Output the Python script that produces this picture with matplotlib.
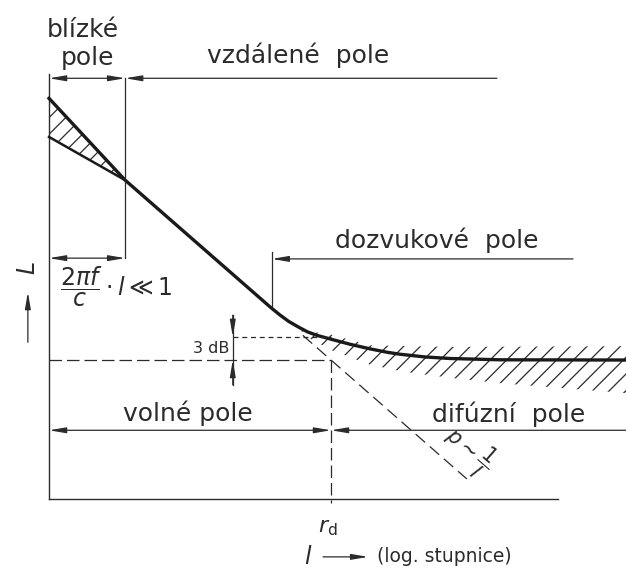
import numpy as np
import matplotlib.pyplot as plt
from matplotlib.patches import FancyArrowPatch, ArrowStyle

# x = distance l on a log scale (r_d = 6), y = level L in dB (reverberant level = 18)
curve_x = [0.0, 1.62, 4.70, 4.90, 5.10, 5.30, 5.50, 5.70, 6.00, 6.40, 6.83, 7.20,
           7.47, 8.00, 8.53, 9.60, 12.3]
curve_y = [51.9, 41.3, 24.9, 23.9, 23.0, 22.3, 21.65, 21.2, 20.7, 20.05, 19.45, 19.0,
           18.75, 18.4, 18.2, 18.03, 18.0]

# lower edge of the near-field spread
near_x = [0.0, 1.62]
near_low_y = [46.9, 41.3]
near_up_y = [51.9, 41.3]

# p ~ 1/l continuation (dashed)
free_x = [5.40, 8.89]
free_y = [21.2, 2.6]

# hatched spread in the diffuse field
band_up_x = [5.34, 6.0, 6.83, 8.53, 12.3]
band_up_y = [21.9, 21.3, 19.9, 19.7, 19.8]
band_lo_x = [5.34, 5.55, 6.0, 6.83, 7.53, 8.53, 9.6, 12.3]
band_lo_y = [21.9, 20.8, 19.3, 17.4, 16.5, 15.7, 15.0, 13.7]

r_d = 6.0
L_rev = 18.0
L_3db = 21.0
x_near = 1.62
x_dozv = 4.74
x_end = 12.3

INK = '#2b2b2b'
plt.rcParams['hatch.linewidth'] = 0.9

fig = plt.figure(figsize=(6.26, 5.69), dpi=100)
ax = fig.add_axes([0, 0, 1, 1])
ax.set_xlim(-1.043, 12.277)
ax.set_ylim(-9.07, 64.64)
ax.axis('off')

arrow_both = ArrowStyle('<|-|>', head_length=10, head_width=1.7)
arrow_left = ArrowStyle('<|-', head_length=10, head_width=1.7)
arrow_right = ArrowStyle('-|>', head_length=10, head_width=1.7)


def arrow(p0, p1, style, lw=0.9):
    ax.add_patch(FancyArrowPatch(p0, p1, arrowstyle=style, mutation_scale=1,
                                 lw=lw, color=INK, shrinkA=0, shrinkB=0))


# axes of the diagram
ax.plot([0, 0], [0, 55], color=INK, lw=1.0)
ax.plot([0, 10.83], [0, 0], color=INK, lw=1.0)

# hatched regions
ax.fill_between(near_x, near_low_y, near_up_y, facecolor='none', edgecolor=INK,
                hatch='//', linewidth=0)
ax.fill(band_up_x + band_lo_x[::-1], band_up_y + band_lo_y[::-1], facecolor='none',
        edgecolor=INK, hatch='//', linewidth=0)

# level curves
ax.plot(near_x, near_low_y, color='#1a1a1a', lw=1.8)
ax.plot(curve_x, curve_y, color='#1a1a1a', lw=2.4, solid_joinstyle='round')
ax.plot(free_x, free_y, color=INK, lw=0.9, dashes=(10, 5))

# reference levels
ax.plot([0, r_d], [L_rev, L_rev], color=INK, lw=0.9, dashes=(10, 4))
ax.plot([3.91, r_d], [L_3db, L_3db], color=INK, lw=0.9, dashes=(4, 3))
ax.plot([r_d, r_d], [L_rev, -0.5], color=INK, lw=0.9, dashes=(10, 4))

# 3 dB dimension
ax.plot([3.91, 3.91], [23.8, 14.8], color=INK, lw=0.9)
arrow((3.91, 23.8), (3.91, L_3db), arrow_right)
arrow((3.91, 14.8), (3.91, L_rev), arrow_right)
ax.text(3.83, 19.5, '3 dB', fontsize=11.5, color=INK, ha='right', va='center')

# near / far field dimensions
ax.plot([x_near, x_near], [54.5, 31.2], color=INK, lw=0.9)
arrow((0, 54.5), (x_near, 54.5), arrow_both)
arrow((x_near, 54.5), (9.53, 54.5), arrow_left)
arrow((0, 31.2), (x_near, 31.2), arrow_both)

# reverberant field dimension
ax.plot([x_dozv, x_dozv], [32.0, 25.0], color=INK, lw=0.9)
arrow((x_dozv, 31.1), (11.15, 31.1), arrow_left)

# free / diffuse field dimension
arrow((0, 8.9), (r_d, 8.9), arrow_both)
arrow((r_d, 8.9), (x_end, 8.9), arrow_left)

# labels
lab = dict(fontsize=18, color=INK, va='baseline', ha='center')
ax.text(0.72, 59.8, 'blízké', **lab)
ax.text(0.81, 56.2, 'pole', **lab)
ax.text(5.30, 56.5, 'vzdálené  pole', **lab)
ax.text(8.26, 32.5, 'dozvukové  pole', **lab)
ax.text(2.96, 10.1, 'volné pole', **lab)
ax.text(9.77, 10.0, 'difúzní  pole', **lab)

ax.text(0.23, 27.5, r'$\dfrac{2\pi f}{c}\cdot l \ll 1$', fontsize=17, color=INK,
        ha='left', va='center')
ax.text(8.92, 6.3, r'$p \sim \dfrac{1}{l}$', fontsize=15, color=INK, rotation=-41,
        rotation_mode='anchor', ha='center', va='center')

ax.text(-0.47, 30.0, 'L', fontsize=17, color=INK, style='italic', rotation=90,
        ha='center', va='center')
arrow((-0.45, 20.3), (-0.45, 26.8), arrow_right)

ax.text(5.94, -3.75, r'$r_{\mathrm{d}}$', fontsize=16, color=INK, ha='center', va='center')
ax.text(5.51, -7.5, r'$l$', fontsize=17, color=INK, ha='center', va='center')
arrow((5.83, -7.5), (6.79, -7.5), arrow_right)
ax.text(6.98, -7.5, '(log. stupnice)', fontsize=13.5, color=INK, ha='left', va='center')

fig.savefig('out.png', dpi=100)
